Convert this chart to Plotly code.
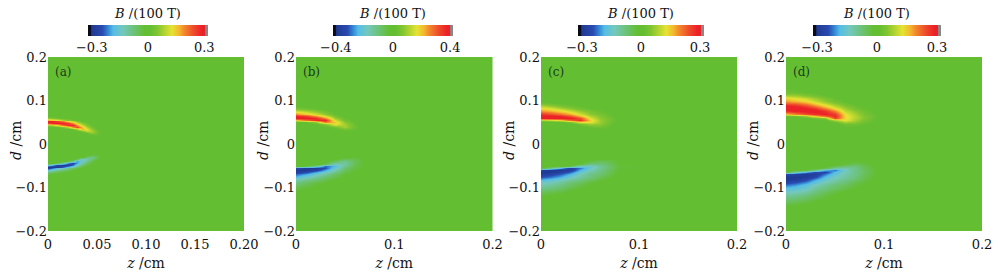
import plotly.graph_objects as go

# Field values B/(100 T). Rows missing trailing
# entries are zero (the background green) out to the right edge.
z_a = [0, .005, .01, .015, .02, .025, .03, .035, .04, .045, .05, .055]
d_a_up = [.015, .02, .025, .03, .035, .04, .044, .048, .052, .056, .06, .065]
b_a_up = [
    [0, 0, 0, 0, 0, 0, 0, 0, 0, 0, .005],
    [0, 0, 0, 0, 0, 0, 0, 0, 0, .01, .02, .005],
    [0, 0, 0, 0, 0, 0, 0, 0, .02, .06, .03, .005],
    [0, 0, 0, 0, 0, 0, .01, .04, .10, .08, .03, .005],
    [0, 0, 0, 0, .01, .03, .08, .17, .12, .06, .015],
    [.01, .01, .02, .05, .10, .19, .25, .16, .08, .03, .005],
    [.08, .10, .15, .22, .27, .28, .19, .10, .05, .015],
    [.26, .28, .29, .29, .26, .19, .11, .06, .025, .005],
    [.30, .29, .25, .20, .14, .09, .05, .015],
    [.17, .15, .12, .08, .05, .03, .01],
    [.06, .05, .03, .02, .01],
    [.01, .005],
]
d_a_lo = [-.02, -.025, -.03, -.035, -.04, -.044, -.048, -.052, -.056, -.06, -.065, -.07, -.075]
b_a_lo = [
    [0, 0, 0, 0, 0, 0, 0, 0, 0, -.005, -.01, -.005],
    [0, 0, 0, 0, 0, 0, 0, 0, -.01, -.04, -.03, -.01],
    [0, 0, 0, 0, 0, 0, 0, -.01, -.07, -.09, -.04, -.01],
    [0, 0, 0, 0, 0, -.01, -.05, -.15, -.12, -.07, -.03, -.005],
    [0, 0, 0, -.01, -.03, -.10, -.20, -.16, -.09, -.04, -.01],
    [-.01, -.02, -.05, -.11, -.21, -.26, -.20, -.11, -.06, -.02],
    [-.14, -.20, -.27, -.29, -.28, -.22, -.13, -.07, -.03, -.005],
    [-.30, -.30, -.29, -.23, -.17, -.12, -.07, -.03, -.01],
    [-.27, -.22, -.17, -.13, -.09, -.06, -.03, -.01],
    [-.16, -.13, -.10, -.07, -.05, -.025, -.01],
    [-.08, -.06, -.04, -.025, -.01],
    [-.03, -.02, -.01],
    [-.005],
]

z_b = [0, .01, .02, .03, .04, .05, .06, .07]
d_b_up = [.03, .035, .04, .045, .05, .055, .06, .065, .07, .075, .08, .085, .09]
b_b_up = [
    [0, 0, 0, 0, 0, .01, .015],
    [0, 0, 0, 0, .01, .05, .025],
    [0, 0, 0, 0, .05, .10, .03],
    [0, 0, .01, .07, .17, .10, .025],
    [0, .02, .09, .27, .20, .07, .015],
    [.20, .28, .36, .37, .14, .04, .005],
    [.39, .39, .36, .26, .09, .02],
    [.37, .34, .25, .16, .05, .005],
    [.25, .20, .14, .08, .02],
    [.14, .11, .07, .04, .005],
    [.07, .05, .03, .01],
    [.03, .02, .01],
    [.01, .005],
]
d_b_lo = [-.025, -.03, -.035, -.04, -.045, -.05, -.055, -.06, -.065, -.07, -.075, -.08, -.085, -.09, -.10, -.11]
b_b_lo = [
    [0, 0, 0, 0, 0, -.005, -.01],
    [0, 0, 0, 0, 0, -.02, -.03, -.01],
    [0, 0, 0, 0, -.02, -.07, -.05, -.015],
    [0, 0, 0, -.01, -.07, -.13, -.06, -.02],
    [0, 0, -.005, -.06, -.17, -.14, -.06, -.02],
    [-.01, -.05, -.13, -.30, -.24, -.12, -.05, -.02],
    [-.32, -.38, -.39, -.32, -.20, -.09, -.04, -.015],
    [-.39, -.39, -.35, -.26, -.16, -.07, -.03, -.01],
    [-.37, -.33, -.26, -.20, -.12, -.05, -.02, -.005],
    [-.30, -.26, -.20, -.14, -.08, -.03, -.01],
    [-.24, -.19, -.14, -.09, -.05, -.02],
    [-.18, -.14, -.10, -.06, -.03, -.01],
    [-.14, -.10, -.07, -.04, -.015],
    [-.10, -.07, -.04, -.02, -.005],
    [-.05, -.03, -.015, -.005],
    [-.015, -.01],
]

z_c = [0, .01, .02, .03, .04, .05, .06, .07, .08]
d_c_up = [.035, .04, .045, .05, .055, .06, .065, .07, .075, .08, .085, .09, .095, .10]
b_c_up = [
    [0, 0, 0, 0, 0, 0, .01, .005],
    [0, 0, 0, 0, 0, .02, .03, .01],
    [0, 0, 0, 0, .03, .07, .06, .02],
    [0, 0, .01, .04, .13, .13, .07, .03],
    [.09, .11, .15, .22, .27, .15, .07, .03],
    [.29, .30, .30, .30, .24, .12, .06, .03],
    [.30, .30, .28, .24, .17, .09, .05, .02],
    [.26, .24, .21, .17, .11, .06, .035, .015],
    [.19, .17, .14, .11, .07, .04, .02, .01],
    [.15, .13, .10, .07, .04, .02, .01],
    [.11, .09, .06, .04, .02, .01],
    [.07, .05, .03, .02, .01],
    [.03, .02, .01],
    [.01],
]
d_c_lo = [-.03, -.035, -.04, -.045, -.05, -.055, -.06, -.065, -.07, -.075, -.08, -.085, -.09, -.10, -.11, -.12, -.13]
b_c_lo = [
    [0, 0, 0, 0, 0, 0, -.005, -.005],
    [0, 0, 0, 0, 0, -.01, -.02, -.02, -.005],
    [0, 0, 0, 0, -.005, -.03, -.05, -.04, -.015],
    [0, 0, 0, -.005, -.03, -.08, -.08, -.05, -.02],
    [0, 0, -.01, -.04, -.14, -.16, -.10, -.06, -.025],
    [-.03, -.10, -.19, -.27, -.22, -.15, -.10, -.06, -.025],
    [-.27, -.30, -.30, -.28, -.19, -.13, -.09, -.05, -.02],
    [-.30, -.30, -.27, -.23, -.16, -.11, -.08, -.045, -.015],
    [-.28, -.26, -.23, -.19, -.13, -.09, -.07, -.04, -.01],
    [-.24, -.22, -.19, -.15, -.11, -.08, -.05, -.025, -.005],
    [-.20, -.18, -.15, -.12, -.09, -.06, -.035, -.015],
    [-.16, -.15, -.12, -.09, -.07, -.04, -.02, -.005],
    [-.14, -.12, -.10, -.07, -.05, -.025, -.01],
    [-.09, -.08, -.06, -.04, -.02, -.01],
    [-.05, -.04, -.03, -.01, -.005],
    [-.02, -.015, -.005],
    [-.005],
]

z_d = [0, .01, .02, .03, .04, .05, .06, .07, .08, .09, .10]
d_d_up = [.04, .045, .05, .055, .06, .065, .07, .075, .08, .085, .09, .095, .10, .105, .11, .115, .12, .13]
b_d_up = [
    [0, 0, 0, 0, 0, 0, .01, .01, .005],
    [0, 0, 0, 0, 0, 0, .03, .03, .015],
    [0, 0, 0, 0, 0, .02, .08, .06, .03, .01],
    [0, 0, 0, 0, .01, .09, .13, .08, .04, .015],
    [0, 0, .01, .03, .06, .25, .14, .09, .05, .02],
    [.02, .03, .07, .15, .22, .28, .14, .09, .05, .02],
    [.16, .20, .24, .27, .29, .26, .13, .08, .04, .015],
    [.27, .29, .30, .30, .27, .20, .10, .06, .03, .01],
    [.30, .30, .30, .28, .22, .15, .08, .04, .02, .005],
    [.30, .30, .27, .23, .17, .11, .06, .03, .01],
    [.28, .26, .23, .18, .13, .08, .04, .015],
    [.22, .21, .18, .14, .09, .05, .025, .005],
    [.18, .16, .14, .10, .06, .03, .01],
    [.14, .12, .10, .07, .04, .015, .005],
    [.09, .08, .06, .04, .02, .005],
    [.05, .05, .03, .02, .01],
    [.03, .02, .015, .01],
    [.01, .005],
]
d_d_lo = [-.035, -.04, -.045, -.05, -.055, -.06, -.065, -.07, -.075, -.08, -.085, -.09, -.095, -.10, -.105, -.11, -.12, -.13, -.14, -.15]
b_d_lo = [
    [0, 0, 0, 0, 0, 0, 0, 0, -.01, -.005],
    [0, 0, 0, 0, 0, 0, -.01, -.02, -.02, -.005],
    [0, 0, 0, 0, 0, -.01, -.03, -.05, -.03, -.01],
    [0, 0, 0, 0, -.01, -.04, -.07, -.08, -.045, -.02],
    [0, 0, 0, -.01, -.04, -.11, -.12, -.09, -.05, -.025],
    [0, -.01, -.03, -.09, -.19, -.22, -.14, -.09, -.055, -.025],
    [-.03, -.12, -.19, -.25, -.26, -.18, -.13, -.09, -.055, -.025],
    [-.25, -.28, -.29, -.28, -.22, -.16, -.12, -.09, -.05, -.025],
    [-.30, -.30, -.29, -.25, -.18, -.14, -.11, -.08, -.045, -.02],
    [-.30, -.29, -.26, -.21, -.16, -.12, -.10, -.07, -.04, -.015],
    [-.28, -.26, -.23, -.18, -.14, -.11, -.08, -.05, -.03, -.01],
    [-.25, -.23, -.20, -.16, -.12, -.09, -.07, -.04, -.02, -.005],
    [-.22, -.20, -.17, -.13, -.10, -.07, -.05, -.03, -.015],
    [-.18, -.17, -.15, -.11, -.08, -.06, -.04, -.02, -.005],
    [-.16, -.15, -.13, -.09, -.07, -.04, -.025, -.01],
    [-.14, -.13, -.11, -.08, -.05, -.03, -.015],
    [-.10, -.09, -.07, -.05, -.03, -.01],
    [-.06, -.05, -.04, -.02, -.01],
    [-.03, -.02, -.01],
    [-.01],
]

panel_labels = ["(a)", "(b)", "(c)", "(d)"]
z_ticks = [[0, .05, .10, .15, .20], [0, .1, .2], [0, .1, .2], [0, .1, .2]]
z_ticktext = [["0", "0.05", "0.10", "0.15", "0.20"], ["0", "0.1", "0.2"], ["0", "0.1", "0.2"], ["0", "0.1", "0.2"]]
d_ticks = [-.2, -.1, 0, .1, .2]
d_ticktext = ["\u22120.2", "\u22120.1", "0", "0.1", "0.2"]
cb_ticks = [[-.3, 0, .3], [-.4, 0, .4], [-.3, 0, .3], [-.3, 0, .3]]
cb_ticktext = [["\u22120.3", "0", "0.3"], ["\u22120.4", "0", "0.4"], ["\u22120.3", "0", "0.3"], ["\u22120.3", "0", "0.3"]]
cb_limits = [.32, .42, .32, .32]

colorscale = [
    [0, "#0a0a18"], [.02, "#0a0a18"], [.03, "#1f3a93"], [.12, "#2a4ab0"], [.16, "#2f7fd0"],
    [.21, "#55bde6"], [.29, "#74c8bc"], [.38, "#6cc278"], [.47, "#64be32"], [.52, "#64be32"],
    [.58, "#82c530"], [.64, "#b4d430"], [.70, "#e6e332"], [.76, "#f5b52f"], [.80, "#f28a2d"],
    [.88, "#ee4b2b"], [.95, "#ec2027"], [.975, "#ec2027"], [.98, "#888888"], [1, "#888888"],
]

FONT = "DejaVu Serif"
INK = "#111111"
W, H = 1000, 278
plot_px = [(48, 244), (296, 492.5), (541, 737), (786, 982)]
top_px, bot_px = 57, 231
bar_px = [(88, 208), (333, 453), (578, 704), (813, 941)]
ytitle_px = [16, 263, 509, 753]


def assemble(zs, d_up, b_up, d_lo, b_lo):
    cols = list(zs) + [.2]
    n = len(cols)
    pad = lambda r: list(r) + [0] * (n - len(r))
    rows = [-.2] + d_lo[::-1] + [0] + d_up + [.2]
    vals = [pad([])] + [pad(r) for r in b_lo[::-1]] + [pad([])] + [pad(r) for r in b_up] + [pad([])]
    return cols, rows, vals


grids = [
    assemble(z_a, d_a_up, b_a_up, d_a_lo, b_a_lo),
    assemble(z_b, d_b_up, b_b_up, d_b_lo, b_b_lo),
    assemble(z_c, d_c_up, b_c_up, d_c_lo, b_c_lo),
    assemble(z_d, d_d_up, b_d_up, d_d_lo, b_d_lo),
]

fig = go.Figure()
layout = {}
annotations = []
for i, (cols, rows, vals) in enumerate(grids):
    sfx = "" if i == 0 else str(i + 1)
    fig.add_trace(go.Heatmap(
        x=cols, y=rows, z=vals, zsmooth="best",
        xaxis="x" + sfx, yaxis="y" + sfx,
        colorscale=colorscale, zmin=-cb_limits[i], zmax=cb_limits[i],
        colorbar=dict(
            orientation="h", x=bar_px[i][0] / W, xanchor="left",
            y=1 - 51 / H, yanchor="bottom", yref="paper",
            len=bar_px[i][1] - bar_px[i][0], lenmode="pixels", thickness=11,
            xpad=0, ypad=0, outlinewidth=0, ticks="", ticklabelposition="outside bottom",
            tickvals=cb_ticks[i], ticktext=cb_ticktext[i],
            tickfont=dict(family=FONT, size=13, color=INK),
            title=dict(text="<i>B</i> /(100 T)", side="top",
                       font=dict(family=FONT, size=13, color=INK)),
        ),
    ))
    x0, x1 = plot_px[i]
    layout["xaxis" + sfx] = dict(
        domain=[x0 / W, x1 / W], range=[0, .2], anchor="y" + sfx,
        tickvals=z_ticks[i], ticktext=z_ticktext[i], ticks="outside", ticklen=1,
        tickcolor="rgba(0,0,0,0)", showgrid=False, zeroline=False,
        showline=False, tickfont=dict(family=FONT, size=13, color=INK),
        title=dict(text="<i>z</i> /cm", standoff=7, font=dict(family=FONT, size=14, color=INK)),
    )
    layout["yaxis" + sfx] = dict(
        domain=[1 - bot_px / H, 1 - top_px / H], range=[-.2, .2], anchor="x" + sfx,
        tickvals=d_ticks, ticktext=d_ticktext, ticks="", showgrid=False, zeroline=False,
        showline=False, tickfont=dict(family=FONT, size=13, color=INK),
    )
    annotations.append(dict(
        text=panel_labels[i], xref="x" + sfx, yref="y" + sfx, x=.005, y=.165,
        xanchor="left", yanchor="middle", showarrow=False,
        font=dict(family=FONT, size=12, color="#1a3a1a"),
    ))
    annotations.append(dict(
        text="<i>d</i> /cm", xref="paper", yref="paper", x=ytitle_px[i] / W, y=1 - 141 / H,
        xanchor="center", yanchor="middle", textangle=-90, showarrow=False,
        font=dict(family=FONT, size=14, color=INK),
    ))

fig.update_layout(
    width=W, height=H, margin=dict(l=0, r=0, t=0, b=0, autoexpand=False), paper_bgcolor="white",
    plot_bgcolor="white", showlegend=False, annotations=annotations, **layout,
)
fig.write_html("out.html", config={"displayModeBar": False}, post_script="document.body.style.margin='0';")
